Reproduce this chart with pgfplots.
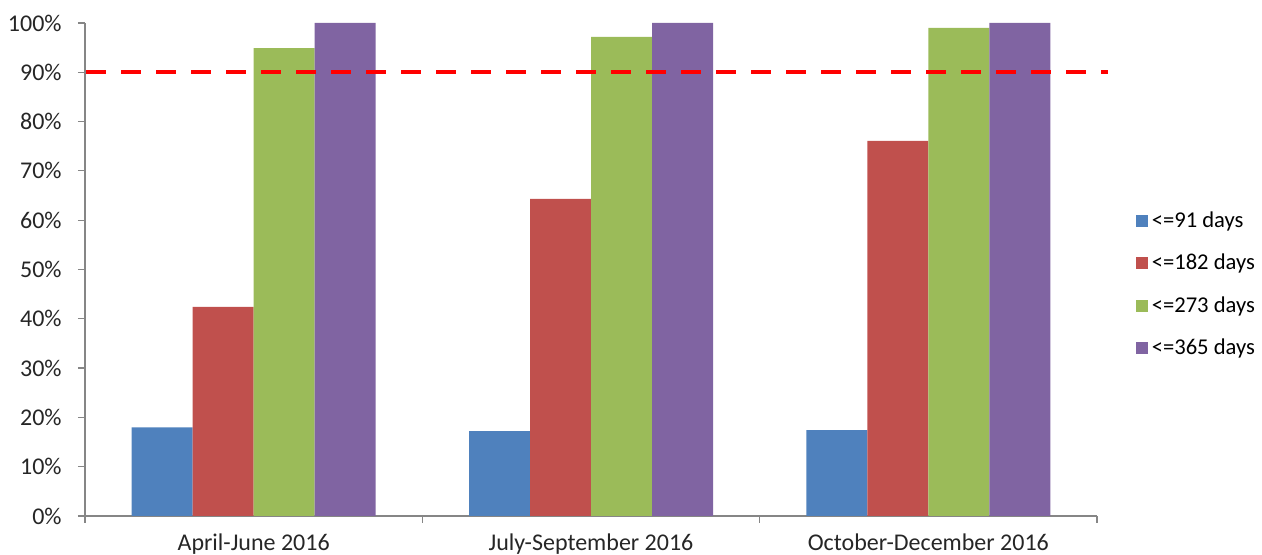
\documentclass[border=0pt]{standalone}
\usepackage{pgfplots}
\pgfplotsset{compat=1.18}
\usepackage{fontspec}
\setmainfont{Carlito}
\definecolor{cblue}{HTML}{4F81BD}
\definecolor{cred}{HTML}{C0504D}
\definecolor{cgreen}{HTML}{9BBB59}
\definecolor{cpurple}{HTML}{8064A2}
\definecolor{axgray}{HTML}{868686}
\begin{document}
\fontsize{12pt}{14pt}\selectfont
\begin{tikzpicture}
\useasboundingbox (0,0) rectangle (631pt,277.5pt);
\begin{axis}[
  at={(42.5pt,19.5pt)}, anchor=south west,
  scale only axis, width=506pt, height=246.5pt,
  xmin=-0.5, xmax=2.5, ymin=0, ymax=100,
  clip=false,
  axis x line*=bottom, axis y line*=left,
  axis line style={draw=axgray, line width=0.6pt, -},
  tick align=outside,
  xtick={0,1,2},
  xticklabels={April-June 2016, July-September 2016, October-December 2016},
  major x tick style={draw=none},
  minor xtick={-0.5,0.5,1.5,2.5},
  minor tick length=3.5pt, major tick length=3.5pt,
  every tick/.style={draw=axgray, line width=0.6pt},
  ytick={0,10,...,100},
  yticklabel={\pgfmathprintnumber{\tick}\%},
  /pgf/number format/assume math mode=true,
  tick label style={font=\fontsize{12pt}{14pt}\selectfont, text=black!85},
  yticklabel style={xshift=-4pt},
  xticklabel style={yshift=-1pt},
  ybar=0pt, bar width=30.5pt,
  legend style={at={(1.032,0.635)}, anchor=north west, draw=none, fill=none,
    font=\fontsize{11.3pt}{13.5pt}\selectfont, row sep=7.6pt, legend cell align=left,
    nodes={inner xsep=2pt}},
  legend image code/.code={\fill[#1] (0pt,-3pt) rectangle (6pt,3pt);},
]
\addplot[fill=cblue, draw=none, bar shift=-45.75pt] coordinates {(0,18.0) (1,17.2) (2,17.4)};
\addplot[fill=cred, draw=none, bar shift=-15.25pt] coordinates {(0,42.4) (1,64.3) (2,76.1)};
\addplot[fill=cgreen, draw=none, bar shift=15.25pt] coordinates {(0,94.9) (1,97.2) (2,99.0)};
\addplot[fill=cpurple, draw=none, bar shift=45.75pt] coordinates {(0,100) (1,100) (2,100)};
\addplot[sharp plot, forget plot, draw=red, line width=2pt, dash pattern=on 10pt off 7.5pt] coordinates {(-0.497,90) (2.533,90)};
\legend{{<=91 days},{<=182 days},{<=273 days},{<=365 days}}
\end{axis}
\end{tikzpicture}
\end{document}
